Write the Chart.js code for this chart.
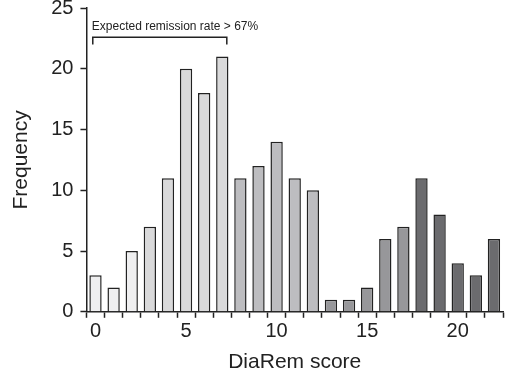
<!DOCTYPE html>
<html>
<head>
<meta charset="utf-8">
<script src="https://cdn.jsdelivr.net/npm/chart.js@4"></script>
<style>
  body { margin: 0; background: #fff; }
  #wrap { width: 507px; height: 377px; }
</style>
</head>
<body>
<div id="wrap"><canvas id="myChart"></canvas></div>
<script>
let scores = ['0','1','2','3','4','5','6','7','8','9','10','11','12','13','14','15','16','17','18','19','20','21','22'];
let frequency = [3, 2, 5, 7, 11, 20, 18, 21, 11, 12, 14, 11, 10, 1, 1, 2, 6, 7, 11, 8, 4, 3, 6];
let shades = ['#efeff0','#efeff0','#efeff0','#d9d9da','#d9d9da','#d9d9da','#d9d9da','#d9d9da',
              '#bdbdc0','#bdbdc0','#bdbdc0','#bdbdc0','#bdbdc0',
              '#97979a','#97979a','#97979a','#97979a','#97979a',
              '#6b6b6e','#6b6b6e','#6b6b6e','#6b6b6e','#6b6b6e'];
let yTicks = [0, 5, 10, 15, 20, 25];
let bracketText = 'Expected remission rate > 67%';
let bracketRange = [0, 7];

const font = "'Liberation Sans', Arial, sans-serif";
const ink = '#222';

const bracket = {
    id: 'bracket',
    afterDraw(chart) {
        let x = chart.scales.x, y = chart.scales.y, c = chart.ctx;
        let x0 = x.getPixelForValue(bracketRange[0] - 0.15);
        let x1 = x.getPixelForValue(bracketRange[1] + 0.25);
        let yTop = y.getPixelForValue(22.6);
        let yEnd = y.getPixelForValue(22.0);
        c.save();
        c.strokeStyle = ink;
        c.lineWidth = 1.5;
        c.beginPath();
        c.moveTo(x0, yEnd);
        c.lineTo(x0, yTop);
        c.lineTo(x1, yTop);
        c.lineTo(x1, yEnd);
        c.stroke();
        c.fillStyle = ink;
        c.font = '12px ' + font;
        c.textBaseline = 'alphabetic';
        c.fillText(bracketText, x0 - 1, y.getPixelForValue(23.2));
        c.restore();
    }
};

const ctx = document.getElementById('myChart');

new Chart(ctx, {
    type: 'bar',
    data: {
        labels: scores,
        datasets: [{
            data: frequency,
            backgroundColor: shades,
            borderColor: ink,
            borderWidth: 1.5,
            barPercentage: 0.68,
            categoryPercentage: 1
        }]
    },
    options: {
        responsive: true,
        maintainAspectRatio: false,
        animation: false,
        layout: { padding: { top: 0, right: 4, left: 9, bottom: 2 } },
        plugins: {
            legend: { display: false },
            tooltip: { enabled: false }
        },
        scales: {
            x: {
                offset: true,
                grid: {
                    offset: true,
                    drawOnChartArea: false,
                    drawTicks: true,
                    tickLength: 6,
                    tickColor: ink,
                    tickWidth: 1.5
                },
                border: { display: true, color: ink, width: 1.5 },
                ticks: {
                    autoSkip: false,
                    maxRotation: 0,
                    color: ink,
                    font: { family: font, size: 20 },
                    padding: 2,
                    callback: function (v, i) {
                        return i % 5 == 0 ? scores[i] : '';
                    }
                },
                title: {
                    display: true,
                    text: 'DiaRem score',
                    color: ink,
                    font: { family: font, size: 21 },
                    padding: { top: 4, bottom: 0 }
                }
            },
            y: {
                min: 0,
                max: 25,
                afterBuildTicks: function (axis) {
                    axis.ticks = yTicks.map(v => ({ value: v }));
                },
                afterFit: function (axis) {
                    axis.paddingTop = 8;
                },
                grid: {
                    drawOnChartArea: false,
                    drawTicks: true,
                    tickLength: 6,
                    tickColor: ink,
                    tickWidth: 1.5
                },
                border: { display: true, color: ink, width: 1.5 },
                ticks: {
                    color: ink,
                    font: { family: font, size: 20 },
                    padding: 7
                },
                title: {
                    display: true,
                    text: 'Frequency',
                    color: ink,
                    font: { family: font, size: 21 },
                    padding: { top: 0, bottom: 10 }
                }
            }
        }
    },
    plugins: [bracket]
});
</script>
</body>
</html>
